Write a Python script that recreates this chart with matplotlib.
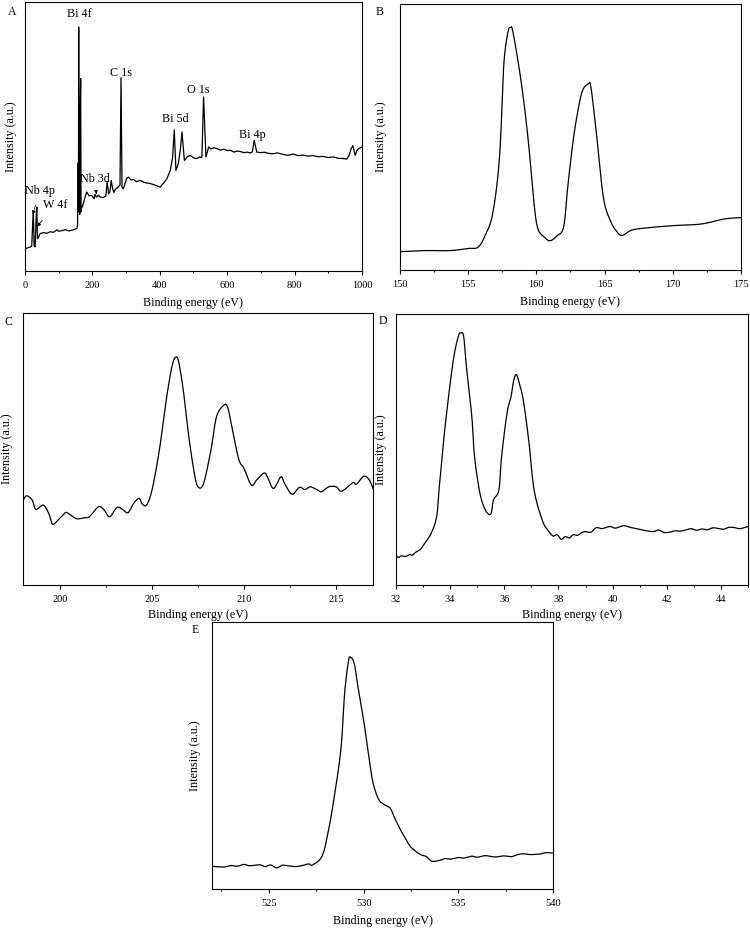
import matplotlib
matplotlib.use("Agg")
import numpy as np
import matplotlib.pyplot as plt
from matplotlib.ticker import MultipleLocator

plt.rcParams['font.family'] = ['Liberation Serif', 'DejaVu Serif']
plt.rcParams['axes.linewidth'] = 0.8

# ---- data (intensity in arbitrary units, 0-100 of axis height)
# A: survey spectrum
a_energy = [0, 8, 15, 20, 23, 25, 27, 30, 33, 35, 37, 40, 45, 55, 65, 75, 85, 95, 100, 110,
            120, 130, 140, 150, 154, 156, 157.5, 158.5, 159.5, 160.5, 161.5, 162.5, 164, 165.3, 166.5,
            168, 170, 175, 183, 190, 198, 205, 208, 212, 218, 223, 232, 240, 244, 248, 252,
            256, 260, 264, 268, 275, 282, 285, 288, 292, 297, 302, 307, 315, 322, 330, 342,
            355, 372, 385, 401, 412, 421, 431, 438, 443, 448, 455, 461, 466, 473, 482, 490,
            500, 510, 518, 525, 530, 537, 545, 552, 560, 570, 580, 590, 600, 610, 620, 630,
            640, 650, 660, 668, 675, 680, 688, 700, 710, 720, 735, 750, 765, 780, 795, 810,
            825, 840, 855, 870, 885, 900, 915, 930, 945, 955, 962, 968, 973, 980, 985, 990, 1000]
a_intensity = [8.3, 8.6, 8.9, 9.2, 18.0, 21.3, 9.5, 9.0, 19.0, 23.8, 12.0, 12.5, 13.9, 14.3, 14.0, 14.6, 14.4, 15.3, 14.8, 15.0,
               15.4, 14.9, 15.2, 15.6, 15.8, 17.0, 40.0, 22.0, 90.7, 22.0, 50.0, 21.0, 60.0, 71.5, 22.0,
               24.0, 23.8, 26.0, 29.4, 28.0, 28.1, 26.9, 28.5, 27.5, 28.2, 27.5, 27.3, 27.9, 33.1, 28.7, 29.5,
               33.7, 30.6, 29.2, 30.4, 31.0, 32.0, 71.9, 31.0, 30.6, 32.5, 34.5, 34.9, 33.8, 34.1, 33.2, 33.7,
               32.9, 32.5, 32.0, 31.2, 32.8, 34.3, 37.4, 42.0, 52.5, 37.4, 39.9, 45.0, 51.7, 41.1, 42.5, 43.0,
               42.1, 41.8, 42.4, 42.2, 64.7, 42.4, 46.1, 45.4, 45.8, 45.5, 44.9, 45.3, 44.8, 44.9, 44.2, 44.6,
               44.4, 44.0, 44.2, 43.9, 44.3, 48.6, 44.2, 44.0, 44.2, 43.8, 43.6, 43.9, 43.4, 43.0, 43.5, 42.9,
               43.1, 42.7, 42.9, 42.5, 42.6, 42.2, 42.4, 41.9, 41.8, 41.6, 43.0, 45.5, 46.6, 43.0, 44.8, 45.5, 46.1]

# B: Bi 4f
b_energy = [150, 151.8, 153.7, 155, 155.7, 156.2, 156.8, 157.3, 157.6, 157.9, 158.1, 158.3, 158.9,
            159.4, 159.8, 160.1, 160.6, 161, 161.5, 162, 162.3, 162.7, 163.1, 163.4, 163.8, 164,
            164.4, 164.9, 165.4, 165.9, 166.3, 167, 168.2, 170.1, 172.1, 173.8, 175]
b_intensity = [6.9, 7.3, 7.3, 8.1, 8.5, 12.5, 21.3, 42.6, 76.4, 89.0, 91.2, 89.0, 70.2,
               48.9, 26.3, 15.7, 12.3, 11.0, 12.8, 16.3, 31.3, 48.9, 61.4, 67.7, 69.9, 68.7,
               51.4, 27.6, 18.8, 14.4, 13.0, 15.0, 15.9, 16.7, 17.3, 19.2, 19.7]

# C: Nb 3d
c_energy = [198.0, 198.2, 198.5, 198.7, 199.1, 199.4, 199.6, 199.9, 200.3, 200.5, 200.9, 201.3,
            201.6, 202.1, 202.4, 202.7, 203.1, 203.4, 203.7, 204.0, 204.3, 204.45, 204.7, 205.0,
            205.4, 205.8, 206.1, 206.3, 206.45, 206.7, 207.0, 207.3, 207.5, 207.8, 208.2, 208.5,
            208.9, 209.1, 209.3, 209.7, 210.0, 210.4, 210.7, 211.1, 211.3, 211.6, 212.0, 212.2,
            212.6, 213.0, 213.3, 213.6, 214.0, 214.2, 214.6, 215.0, 215.3, 215.9, 216.1, 216.5,
            216.8, 217.0]
c_intensity = [31.2, 32.8, 31.2, 27.8, 29.4, 26.3, 22.4, 23.9, 26.6, 26.1, 24.4, 24.7,
               25.1, 28.8, 27.6, 25.1, 28.5, 27.8, 26.6, 30.0, 31.8, 30.0, 29.4, 34.9,
               49.6, 69.2, 80.8, 83.8, 82.0, 71.6, 54.5, 41.0, 36.1, 37.3, 49.6, 61.8,
               66.1, 65.5, 59.4, 46.5, 42.8, 36.7, 38.8, 41.2, 39.2, 35.5, 39.8, 37.3,
               33.4, 35.9, 35.1, 36.1, 34.9, 34.3, 36.1, 36.1, 34.5, 37.6, 37.1, 40.0,
               38.6, 35.5]

# D: W 4f
d_energy = [32.0, 32.1, 32.2, 32.35, 32.5, 32.6, 32.7, 32.9, 33.1, 33.3, 33.5, 33.6, 33.8,
            34.1, 34.3, 34.4, 34.5, 34.6, 34.8, 34.9, 35.1, 35.3, 35.5, 35.6, 35.8, 35.9,
            36.1, 36.25, 36.35, 36.45, 36.55, 36.7, 36.9, 37.1, 37.4, 37.6, 37.8, 37.95, 38.1,
            38.25, 38.4, 38.55, 38.7, 38.85, 39.0, 39.2, 39.4, 39.6, 39.9, 40.1, 40.4, 40.6,
            40.8, 41.0, 41.2, 41.5, 41.7, 41.9, 42.1, 42.3, 42.5, 42.7, 42.9, 43.1, 43.3,
            43.5, 43.7, 43.9, 44.1, 44.3, 44.5, 44.7, 45.0]
d_intensity = [10.7, 10.2, 10.8, 10.5, 11.3, 11.0, 11.9, 13.2, 16.0, 19.1, 25.2, 36.3, 57.3,
               81.9, 91.7, 93.0, 91.7, 80.7, 62.2, 47.4, 33.9, 27.7, 26.2, 31.4, 35.1, 47.4,
               63.4, 69.6, 75.7, 77.6, 74.5, 68.3, 53.6, 35.1, 24.0, 20.3, 18.1, 18.6, 16.9,
               17.9, 17.4, 18.6, 18.3, 19.3, 19.7, 19.5, 21.2, 20.8, 21.6, 21.0, 21.9, 21.4,
               21.0, 20.6, 20.1, 19.7, 20.3, 19.4, 19.5, 20.0, 19.9, 20.3, 20.8, 20.2, 20.7,
               20.4, 21.1, 20.9, 20.6, 21.3, 21.2, 20.8, 21.6]

# E: O 1s
e_energy = [522.0, 522.6, 523.0, 523.3, 523.7, 524.0, 524.5, 524.8, 525.1, 525.4, 525.7, 526.0,
            526.4, 526.7, 527.1, 527.3, 527.8, 528.1, 528.4, 528.8, 529.0, 529.2, 529.3, 529.5,
            529.7, 530.0, 530.3, 530.5, 530.8, 531.1, 531.4, 531.6, 531.9, 532.1, 532.4, 532.6,
            533.0, 533.3, 533.6, 534.0, 534.3, 534.6, 535.0, 535.3, 535.7, 536.0, 536.4, 536.7,
            537.0, 537.4, 537.8, 538.1, 538.4, 538.8, 539.3, 539.6, 540.0]
e_intensity = [8.5, 8.2, 8.8, 8.5, 9.2, 8.7, 9.1, 8.4, 9.0, 7.9, 8.9, 8.7,
               8.4, 8.7, 9.4, 9.0, 12.2, 20.3, 32.2, 52.2, 73.4, 85.3, 86.8, 84.6,
               75.9, 63.4, 48.4, 39.7, 33.5, 31.6, 30.3, 27.2, 22.8, 20.3, 16.6, 15.0,
               12.9, 12.2, 10.4, 10.7, 11.4, 11.2, 11.8, 11.6, 12.3, 11.9, 12.5, 12.2,
               12.0, 12.4, 12.1, 12.8, 13.2, 12.9, 13.1, 13.6, 13.5]

# peak labels for survey: (text, energy, intensity)
a_labels = [("Bi 4f", 160, 95.5), ("C 1s", 284, 73.7), ("O 1s", 515, 67.2),
            ("Bi 5d", 447, 56.4), ("Bi 4p", 674, 50.4)]


def smooth(xs, ys, n=10):
    # Catmull-Rom through the read points, so the trace is drawn as a smooth line
    p = np.column_stack([xs, ys]).astype(float)
    p = np.vstack([2 * p[0] - p[1], p, 2 * p[-1] - p[-2]])
    t = np.linspace(0, 1, n, endpoint=False)[:, None]
    out = []
    for i in range(1, len(p) - 2):
        p0, p1, p2, p3 = p[i - 1], p[i], p[i + 1], p[i + 2]
        seg = 0.5 * ((2 * p1) + (-p0 + p2) * t + (2 * p0 - 5 * p1 + 4 * p2 - p3) * t ** 2
                     + (-p0 + 3 * p1 - 3 * p2 + p3) * t ** 3)
        out.append(seg)
    out.append(p[-2][None, :])
    out = np.vstack(out)
    return out[:, 0], out[:, 1]


panels = [
    # letter, rect, energies, intensities, xlim, major, minor, label_x, smooth?, xlabel pad
    ("A", [0.0333, 0.7089, 0.4493, 0.2889], a_energy, a_intensity, (0, 1000), 200, 100, -0.024, False, 5),
    ("B", [0.5333, 0.7100, 0.4547, 0.2857], b_energy, b_intensity, (150, 175), 5, 2.5, -0.038, True, 5),
    ("C", [0.0307, 0.3716, 0.4667, 0.2922], c_energy, c_intensity, (198, 217), 5, 2.5, -0.029, True, 3.5),
    ("D", [0.5280, 0.3716, 0.4693, 0.2911], d_energy, d_intensity, (32, 45), 2, 1, -0.026, True, 3.5),
    ("E", [0.2827, 0.0451, 0.4547, 0.2868], e_energy, e_intensity, (522, 540), 5, 2.5, -0.032, True, 5),
]
letter_pos = {"A": (12, 12), "B": (380, 12), "C": (8, 322), "D": (383, 321), "E": (195, 630)}

fig = plt.figure(figsize=(7.5, 9.31), dpi=100)
axes = {}
for letter, rect, xs, ys, xlim, major, minor, lx, sm, lpad in panels:
    ax = fig.add_axes(rect)
    if sm:
        xs, ys = smooth(xs, ys)
    ax.plot(xs, ys, color='black', lw=0.9)
    ax.set_xlim(*xlim)
    ax.set_ylim(0, 100)
    ax.set_yticks([])
    ax.xaxis.set_major_locator(MultipleLocator(major))
    ax.xaxis.set_minor_locator(MultipleLocator(minor))
    ax.tick_params(axis='x', which='major', direction='out', length=3, width=0.8,
                   labelsize=7.5, pad=4.5)
    ax.tick_params(axis='x', which='minor', direction='out', length=1.5, width=0.8)
    ax.set_xlabel("Binding energy (eV)", fontsize=8.7, labelpad=lpad)
    ax.set_ylabel("Intensity (a.u.)", fontsize=8.7)
    ax.yaxis.set_label_coords(lx, 0.5)
    px, py = letter_pos[letter]
    fig.text(px / 750, 1 - py / 931, letter, fontsize=8.5, ha='center', va='center')
    axes[letter] = ax

ax = axes["A"]
for txt, xv, yv in a_labels:
    ax.text(xv, yv, txt, fontsize=8.7, ha='center', va='center')
ax.annotate("Nb 4p", xy=(23, 21), xytext=(44, 29.7), fontsize=8.7, ha='center', va='center',
            arrowprops=dict(arrowstyle='-|>', lw=0.6, ls=(0, (2, 1)), color='black',
                            mutation_scale=5, shrinkA=4, shrinkB=0))
ax.annotate("W 4f", xy=(36, 16.5), xytext=(89, 24.4), fontsize=8.7, ha='center', va='center',
            arrowprops=dict(arrowstyle='-|>', lw=0.6, color='black',
                            mutation_scale=5, shrinkA=6, shrinkB=0))
ax.annotate("Nb 3d", xy=(212, 28.6), xytext=(206, 34.3), fontsize=8.7, ha='center', va='center',
            arrowprops=dict(arrowstyle='-|>', lw=0.6, color='black',
                            mutation_scale=5, shrinkA=4, shrinkB=0))

fig.savefig("out.png", dpi=100)
